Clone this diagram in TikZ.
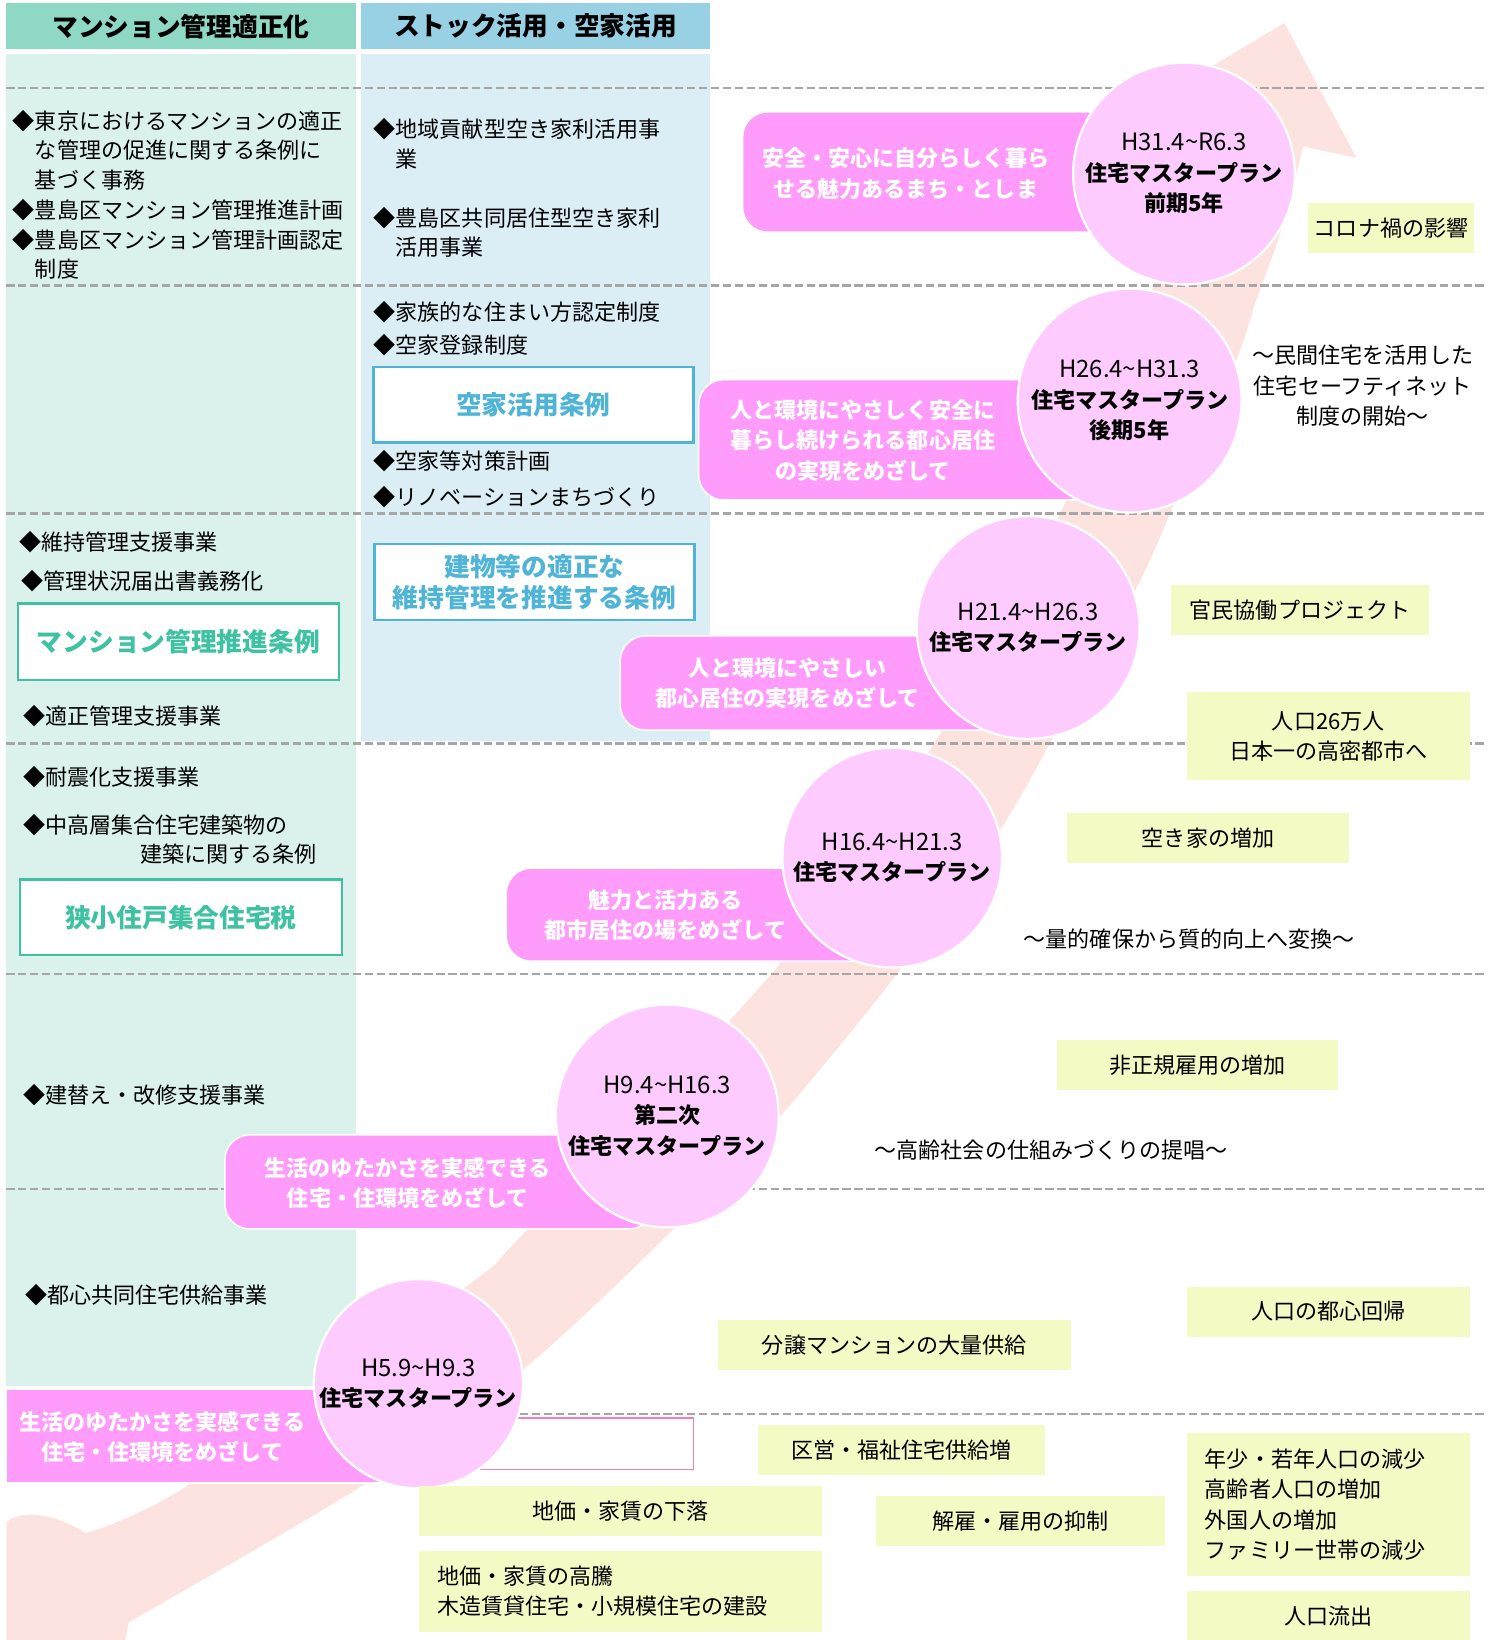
\documentclass[tikz,border=0pt]{standalone}
\usepackage{fontspec}
\setmainfont{Noto Sans CJK JP}
\definecolor{headA}{HTML}{8ED8C5}
\definecolor{headB}{HTML}{98D1E4}
\definecolor{bodyA}{HTML}{DAF2EB}
\definecolor{bodyB}{HTML}{DCEEF5}
\definecolor{trend}{HTML}{FDE3DF}
\definecolor{goalpink}{HTML}{FF9CFB}
\definecolor{planpink}{HTML}{FDCBFD}
\definecolor{factyellow}{HTML}{F4FAC3}
\definecolor{ruleA}{HTML}{3FC2A1}
\definecolor{ruleB}{HTML}{50B4D6}
\definecolor{gridgray}{HTML}{A6A6A6}
\definecolor{edgepink}{HTML}{F080B5}
\tikzset{
  body/.style={inner sep=0pt, font=\fontsize{12}{16.2}\selectfont},
  item/.style={body, anchor=west, align=left},
  headbox/.style={minimum width=6.68cm, minimum height=0.88cm, inner sep=0pt, font=\bfseries\fontsize{14}{17}\selectfont},
  rulebox/.style={draw, fill=white, line width=1.3pt, inner sep=0pt, align=center, font=\bfseries\fontsize{14}{17}\selectfont},
  goal/.style={fill=goalpink, draw=white, line width=0.8pt, rounded corners=0.48cm},
  goaltext/.style={text=white, align=center, inner sep=0pt, font=\bfseries\fontsize{12}{16.5}\selectfont},
  plan/.style={circle, fill=planpink, draw=white, line width=1.2pt, inner sep=0pt, align=center, font=\fontsize{12}{16.5}\selectfont},
  fact/.style={fill=factyellow, minimum height=0.96cm, inner sep=0pt, align=center, font=\fontsize{12}{16.5}\selectfont},
  note/.style={align=center, inner sep=0pt, font=\fontsize{12}{16.5}\selectfont},
  grid/.style={gridgray, line width=1.3pt, dash pattern=on 4.5pt off 2pt}
}
\begin{document}
\begin{tikzpicture}[x=0.02cm, y=-0.02cm]
  \useasboundingbox (0,0) rectangle (1433,1568);

  % columns
  \fill[bodyA] (6,52) rectangle (340,1325);
  \fill[bodyB] (345,52) rectangle (679,708);
  \node[headbox, fill=headA] (hA) at (173,25) {マンション管理適正化};
  \node[headbox, fill=headB] (hB) at (512,25) {ストック活用・空家活用};

  % trend arrow
  \fill[trend] (6,1568) -- (6,1456) .. controls (18,1443) and (52,1446) .. (82,1466)
    -- plot[smooth, tension=0.5] coordinates {(82,1466) (180,1420) (442,1233) (502,1178) (740,928) (898,703) (1014,490) (1098,287) (1150,111)}
    -- (1099,99) -- (1228,22) -- (1297,151) -- (1246,140)
    -- plot[smooth, tension=0.5] coordinates {(1246,140) (1224,223) (1201,287) (1182,344) (1120,488) (1087,561) (1008,703) (957,792) (860,928) (748,1065) (645,1174) (503,1307) (347,1420) (123,1551)}
    -- (120,1568) -- cycle;

  \foreach \y in {84,273,491,711,931,1137,1352}
    \draw[grid] (6,\y) -- (1422,\y);

  % left column
  \node[item] (a1) at (12,186.5) {◆東京におけるマンションの適正\\\phantom{◆}な管理の促進に関する条例に\\\phantom{◆}基づく事務\\◆豊島区マンション管理推進計画\\◆豊島区マンション管理計画認定\\\phantom{◆}制度};
  \node[item] (a2) at (18,518) {◆維持管理支援事業};
  \node[item] (a3) at (20,556) {◆管理状況届出書義務化};
  \node[rulebox, draw=ruleA, text=ruleA, minimum width=6.14cm, minimum height=1.46cm] (rA1) at (170.5,613.5) {マンション管理推進条例};
  \node[item] (a4) at (22,685) {◆適正管理支援事業};
  \node[item] (a5) at (22,743) {◆耐震化支援事業};
  \node[item] (a6) at (22,802.5) {◆中高層集合住宅建築物の\\\hspace*{5.3em}建築に関する条例};
  \node[rulebox, draw=ruleA, text=ruleA, minimum width=6.16cm, minimum height=1.44cm] (rA2) at (173,877) {狭小住戸集合住宅税};
  \node[item] (a7) at (22,1047) {◆建替え・改修支援事業};
  \node[item] (a8) at (24,1238) {◆都心共同住宅供給事業};

  % right column
  \node[item] (b1) at (357,138) {◆地域貢献型空き家利活用事\\\phantom{◆}業};
  \node[item] (b2) at (357,222.5) {◆豊島区共同居住型空き家利\\\phantom{◆}活用事業};
  \node[item] (b3) at (357,298) {◆家族的な住まい方認定制度};
  \node[item] (b4) at (357,330) {◆空家登録制度};
  \node[rulebox, draw=ruleB, text=ruleB, minimum width=6.12cm, minimum height=1.44cm] (rB1) at (510,387) {空家活用条例};
  \node[item] (b5) at (357,441) {◆空家等対策計画};
  \node[item] (b6) at (357,475) {◆リノベーションまちづくり};
  \node[rulebox, draw=ruleB, text=ruleB, minimum width=6.12cm, minimum height=1.46cm] (rB2) at (511,556.5) {建物等の適正な\\維持管理を推進する条例};

  % goals
  \path[goal] (710,107) rectangle (1100,222);
  \path[goal] (668,363) rectangle (1050,478);
  \path[goal] (593,608) rectangle (960,698);
  \path[goal] (484,830) rectangle (840,919);
  \path[goal] (215,1085) rectangle (625,1175);
  \path[goal, rounded corners=0pt] (6,1328) rectangle (370,1418);
  \draw[edgepink, line width=1pt, fill=white] (440,1356) rectangle (663,1405);
  \node[goaltext] (g1) at (866,166) {安全・安心に自分らしく暮ら\\せる魅力あるまち・としま};
  \node[goaltext] (g2) at (825,421) {人と環境にやさしく安全に\\暮らし続けられる都心居住\\の実現をめざして};
  \node[goaltext] (g3) at (753,653) {人と環境にやさしい\\都心居住の実現をめざして};
  \node[goaltext] (g4) at (636,875) {魅力と活力ある\\都市居住の場をめざして};
  \node[goaltext] (g5) at (390,1131) {生活のゆたかさを実感できる\\住宅・住環境をめざして};
  \node[goaltext] (g6) at (155,1374) {生活のゆたかさを実感できる\\住宅・住環境をめざして};

  % plans
  \node[plan, minimum size=4.24cm] (p1) at (1132,166) {{\fontsize{13}{16.5}\selectfont H31.4\textasciitilde R6.3}\\\textbf{住宅マスタープラン}\\\textbf{前期5年}};
  \node[plan, minimum size=4.28cm] (p2) at (1080,383) {{\fontsize{13}{16.5}\selectfont H26.4\textasciitilde H31.3}\\\textbf{住宅マスタープラン}\\\textbf{後期5年}};
  \node[plan, minimum size=4.26cm] (p3) at (983,600) {{\fontsize{13}{16.5}\selectfont H21.4\textasciitilde H26.3}\\\textbf{住宅マスタープラン}};
  \node[plan, minimum size=4.2cm] (p4) at (853,820) {{\fontsize{13}{16.5}\selectfont H16.4\textasciitilde H21.3}\\\textbf{住宅マスタープラン}};
  \node[plan, minimum size=4.26cm] (p5) at (638,1067) {{\fontsize{13}{16.5}\selectfont H9.4\textasciitilde H16.3}\\\textbf{第二次}\\\textbf{住宅マスタープラン}};
  \node[plan, minimum size=4cm] (p6) at (400,1323) {{\fontsize{13}{16.5}\selectfont H5.9\textasciitilde H9.3}\\\textbf{住宅マスタープラン}};

  % background facts
  \foreach \nm/\cx/\cy/\w/\txt in {
    f1/1330/218/158/コロナ禍の影響, f2/1243/583/246/官民協働プロジェクト,
    f3/1155/801/269/空き家の増加, f4/1145/1018/269/非正規雇用の増加,
    f5/1270/1254/270/人口の都心回帰, f6/855/1286/337/分譲マンションの大量供給,
    f7/862/1386/275/区営・福祉住宅供給増, f8/593/1445/385/地価・家賃の下落,
    f9/976/1454/276/解雇・雇用の抑制, f10/1270/1545/270/人口流出}
    \node[fact, minimum width=\w*0.02cm] (\nm) at (\cx,\cy) {\txt};
  \node[fact, minimum width=5.4cm, minimum height=1.68cm] (f11) at (1270,704) {人口26万人\\日本一の高密都市へ};
  \node[fact, text width=7.02cm, inner xsep=0.34cm, minimum height=1.54cm, align=left] (f12) at (593.5,1521.5) {地価・家賃の高騰\\木造賃貸住宅・小規模住宅の建設};
  \node[fact, text width=4.72cm, inner xsep=0.34cm, minimum height=2.74cm, align=left] (f13) at (1270,1438.5) {年少・若年人口の減少\\高齢者人口の増加\\外国人の増加\\ファミリー世帯の減少};

  \node[note] (n1) at (1303,369) {～民間住宅を活用した\\住宅セーフティネット\\制度の開始～};
  \node[note] (n2) at (1137,898) {～量的確保から質的向上へ変換～};
  \node[note] (n3) at (1005,1100) {～高齢社会の仕組みづくりの提唱～};
\end{tikzpicture}
\end{document}
